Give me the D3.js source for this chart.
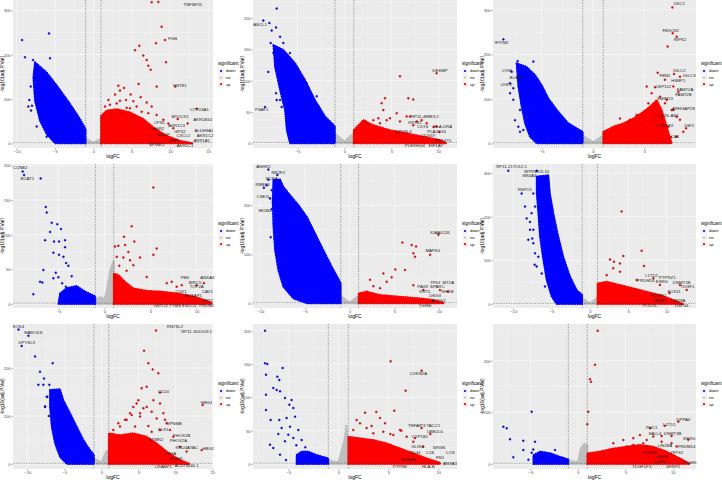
<!DOCTYPE html>
<html>
<head>
<meta charset="utf-8">
<script src="https://cdn.jsdelivr.net/npm/d3@7"></script>
<style>
  body { margin: 0; background: #fff; }
  svg { display: block; font-family: "Liberation Sans", Arial, sans-serif; }
</style>
</head>
<body>
<div id="chart"></div>
<script>
// axis ticks and ranges, one entry per panel (left to right, top to bottom)
var xTicks = [[-10,-5,0,5,10,15],[-5,0,5,10],[-5,0,5],[-5,0,5,10],[-10,-5,0,5,10],[-10,-5,0,5,10],[-10,-5,0,5,10,15],[-5,0,5,10],[-5,0,5,10]];
var yTicks = [[0,100,200,300],[0,50,100,150,200],[0,100,200,300],[0,50,100,150,200],[0,100,200],[0,100,200,300],[0,100,200],[0,50,100,150,200],[0,100,200]];
var xDomains = [[-10.48,15.61],[-9.72,11.99],[-9.74,10.03],[-9.95,11.79],[-10.82,12.01],[-12.63,13.85],[-11.94,15.09],[-8.53,11.87],[-8.93,12.44]];
var yDomains = [[-10.5,323.3],[-7.45,228.7],[-10.5,322.6],[-5.77,201.9],[-9.52,284.4],[-9.16,320.6],[-10.42,291.7],[-7.5,210],[-9.68,271]];

// dense clouds of points, outlined as [logFC, -log10(adj.P.Val)]
var downCloud = [
  [[-7.61,183],[-6.09,160],[-4.57,126],[-3.04,89],[-1.74,55],[-1,32],[-1,0],[-5,0],[-6.09,21],[-6.96,51],[-7.61,96],[-7.83,149]],
  [[-7.55,157],[-6.49,149],[-5.25,128],[-4.18,101],[-3.12,69],[-2.06,43],[-1,27],[-1,0],[-5.78,0],[-6.13,21],[-6.31,53],[-6.84,85],[-7.38,122]],
  [[-7.44,180],[-6.46,172],[-5.65,154],[-5.0,131],[-4.35,101],[-3.38,71],[-2.4,45],[-1,26],[-1,0],[-5.49,0],[-6.14,15],[-6.62,45],[-6.95,82],[-7.27,127]],
  [[-4.84,15],[-4.11,23],[-3.03,26],[-2.12,18],[-1,11],[-1,0],[-5.02,0]],
  [[-8.54,252],[-7.8,253],[-7.43,238],[-6.68,221],[-5.75,201],[-4.81,177],[-3.88,143],[-2.95,109],[-2.01,75],[-1,41],[-1,0],[-4.81,0],[-6.31,10],[-7.43,34],[-7.99,68],[-8.36,109],[-8.54,157],[-8.62,211]],
  [[-6.93,292],[-5.41,295],[-5.2,253],[-4.76,208],[-4.11,154],[-3.46,108],[-2.59,63],[-1.72,32],[-1,21],[-1,0],[-4.33,0],[-4.98,17],[-5.63,55],[-6.07,101],[-6.5,154],[-6.72,208],[-6.93,253]],
  [[-6.94,154],[-5.59,156],[-5.14,133],[-4.23,106],[-3.33,78],[-2.43,50],[-1.53,29],[-1,19],[-1,0],[-4.68,0],[-5.59,15],[-6.26,43],[-6.71,78],[-6.94,119]],
  [[-4.17,0],[-4.17,13.5],[-3.67,18.5],[-3.0,18.5],[-2.17,13.5],[-1,8.5],[-1,0]],
  [[-4.68,0],[-4.68,17],[-3.98,24],[-2.93,21],[-1.88,14],[-1,9],[-1,0]]
];
var upCloud = [
  [[1,0],[1,62],[1.74,74],[3.04,77],[4.78,70],[6.52,55],[7.83,36],[9.57,17],[11.3,6],[13,0]],
  [[1,0],[1,21],[2.02,37],[3.09,29],[4.86,21],[6.63,16],[8.4,10.6],[10.18,5.3],[10.89,0]],
  [[1,0],[1,26],[1.98,37.5],[2.95,45],[3.93,56],[4.9,71],[5.71,86],[6.2,97.5],[6.69,75],[7.18,37.5],[7.66,0]],
  [[1,0],[1,44],[1.5,42],[2.23,32],[3.13,22.6],[4.58,19],[6.03,18],[7.48,16],[8.93,13],[10.38,8],[11.65,2],[11.65,0]],
  [[1,0],[1,20],[1.9,24],[3.4,17],[5.63,13.6],[7.87,10],[9.37,6.8],[10.5,1.4],[10.5,0]],
  [[1,0],[1,47],[2.2,51],[3.93,43.5],[5.67,36],[7.41,28],[9.15,20.6],[10.89,9.2],[12.2,0]],
  [[1,0],[1,64],[2.52,60],[4.32,64],[6.13,57],[7.48,43],[8.83,26],[10.63,8.3],[11.98,0]],
  [[1,0],[1,41],[2.17,38.5],[3.5,36],[4.83,31],[6.17,23.5],[7.5,16],[8.83,8.5],[10.17,2],[10.17,0]],
  [[1,0],[1,20.6],[2.33,24],[3.74,30],[5.14,33.5],[6.54,37],[7.95,33.5],[9.35,24],[10.75,11],[11.8,0]]
];
var noCloud = [
  [[-1,0],[-1,11],[0,2],[1,11],[1,0]],
  [[-1,0],[-1,16],[0,3],[1,16],[1,0]],
  [[-1,0],[-1,18],[0,3],[1,18],[1,0]],
  [[-1,0],[-1,6],[-0.5,10],[0,8],[0.25,20],[0.6,49],[1,63],[1,0]],
  [[-1,0],[-1,15],[0,2],[1,15],[1,0]],
  [[-1,0],[-1,14],[0,2],[1,14],[1,0]],
  [[-1,0],[-1,12],[0,4],[0.6,25],[1,30],[1,0]],
  [[-1,0],[-1,5],[0,3],[0.6,35],[0.8,58],[1,30],[1,0]],
  [[-1,0],[-1,6],[0,4],[0.3,30],[0.7,40],[1,35],[1,0]]
];

// single genes standing out of the clouds
var downPoints = [
  [[-9.3,233],[-5.78,248],[-8.91,194],[-5.65,192],[-8.35,98],[-8.13,74],[-7.04,138],[-7.26,168],[-8.0,85],[-7.87,188],[-8.17,128],[-7.61,113],[-8.48,83],[-7.17,75],[-6.74,98],[-6.52,53],[-7.39,38],[-6.09,15]],
  [[-7.2,215],[-7.98,192],[-7.73,180],[-7.27,185],[-8.09,114],[-7.27,80],[-8.44,58],[-8.62,196],[-7.84,160],[-6.84,170],[-7.2,69],[-6.67,58],[-7.55,144],[-6.49,160],[-5.78,144],[-5.07,117],[-4.01,96],[-2.94,75],[-6.84,69],[-6.13,43]],
  [[-8.73,234],[-7.34,185],[-5.81,184],[-7.92,161],[-7.37,148],[-8.08,135],[-7.76,124],[-7.27,37.5],[-7.11,26],[-7.6,52],[-6.3,82],[-7.76,98],[-7.11,75],[-6.79,30],[-6.14,68],[-8.08,113]],
  [[-8.9,191],[-8.75,186],[-6.94,181],[-6.39,140],[-6.28,132],[-5.74,117],[-5.13,115],[-4.73,108],[-5.92,104],[-6.46,92],[-5.49,90],[-4.95,90],[-4.29,92],[-4.29,82],[-5.56,74],[-4.95,71],[-4.47,68],[-4.18,59],[-3.93,55],[-6.65,49],[-3.57,40],[-7.01,32],[-6.76,31],[-5.56,37],[-7.74,14],[-5.02,38.5],[-4.6,30],[-4.2,25],[-3.6,20],[-5.3,45]],
  [[-9.1,273],[-9.1,252],[-9.29,241],[-8.73,231],[-8.92,214],[-8.73,192],[-8.84,135],[-8.1,262],[-9.6,236],[-8.6,205]],
  [[-8.89,253],[-8.46,223],[-8.24,196],[-7.8,188],[-7.59,208],[-7.37,170],[-7.15,116],[-10.63,305],[-6.93,305],[-7.5,150],[-7.2,90],[-7.8,170],[-8.02,147],[-7.37,139],[-6.72,108],[-6.93,86],[-6.28,70],[-5.85,40],[-6.5,192],[-7.15,223],[-7.37,253]],
  [[-9.86,267],[-10.77,246],[-8.96,224],[-6.58,210],[-8.29,192],[-7.75,178],[-8.51,165],[-7.84,165],[-7.03,165],[-11.2,280],[-7.3,140],[-7.6,120],[-7.1,100],[-7.39,140],[-7.61,119],[-6.04,92],[-5.81,71],[-5.14,36],[-6.49,106]],
  [[-7.33,200],[-7.33,151],[-7.1,150],[-7.23,134],[-5.57,144],[-6.1,131],[-5.9,126],[-6.5,114],[-6.17,111],[-7.23,104],[-5.83,109],[-5.33,99],[-4.67,96],[-4.9,89],[-4.5,84],[-7.23,81],[-6.77,66],[-5.9,66],[-5.17,69],[-4.33,71],[-5.67,54],[-4.83,56],[-4.0,51],[-5.0,44],[-6.83,29],[-6.5,24],[-5.33,34],[-4.5,39],[-3.67,36],[-5.83,14],[-5.23,6],[-4.2,28],[-3.3,25],[-6.0,45]],
  [[-4.86,101],[-7.84,72],[-7.49,69],[-7.14,48],[-5.74,45],[-4.51,43],[-5.74,27],[-6.79,13],[-4.86,22],[-4.69,28],[-2.4,27],[-5.2,8],[-3.8,15]]
];
var upPoints = [
  [[7.61,318],[8.48,319],[8.17,226],[9.35,233],[8.91,263],[5.43,210],[6.0,220],[6.52,198],[6.96,188],[7.17,175],[7.48,166],[9.48,183],[8.26,128],[3.26,130],[2.83,110],[4.0,125],[4.87,110],[5.22,95],[5.91,134],[3.48,96],[4.35,80],[2.17,87],[6.17,104],[6.96,92],[3.48,119],[10.7,128],[13.5,78],[11.0,55],[12.3,45],[1.52,83],[1.96,98],[2.39,71],[3.04,90],[3.7,68],[4.26,98],[4.78,79],[5.65,83],[6.3,71],[7.17,68],[7.61,83],[8.26,64],[9.13,53],[9.78,45],[10.43,34],[5.22,60],[3.04,64]],
  [[5.92,107],[4.33,72],[3.97,64],[6.81,72],[7.34,70],[9.82,112],[3.62,40],[4.15,53],[5.57,48],[8.23,37],[7.34,29],[4.5,37],[6.63,43],[2.2,35],[9.5,26],[10.1,18],[2.38,32],[3.09,37],[3.79,32],[4.86,40],[5.92,35],[6.99,43],[7.7,35],[8.76,32],[9.82,27]],
  [[7.73,306],[7.76,248],[8.15,240],[7.27,218],[6.3,159],[7.89,156],[8.47,150],[7.01,143],[6.04,126],[7.82,128],[8.31,116],[7.18,98],[9.06,34],[7.6,13.5],[7.34,37.5],[6.04,60],[6.53,71],[7.82,75],[8.15,60],[5.39,90],[5.23,128],[5.71,113],[6.53,105],[7.01,90],[7.66,75],[6.69,56],[5.88,45],[5.23,49],[4.58,45],[4.25,64],[8.47,53],[8.8,26],[8.15,15],[3.6,53],[2.63,56]],
  [[5.31,168],[2.95,112],[2.12,97],[3.24,90],[5.67,80],[5.31,71],[1.14,83],[1.5,84],[2.23,85],[2.59,75],[1.32,68],[2.05,67],[2.77,63],[3.86,67],[1.14,39],[3.13,56],[4.58,39],[6.76,30],[7.3,32],[7.84,25],[10.0,27],[10.8,30],[8.39,27],[1.6,55],[2.4,48]],
  [[5.9,124],[6.94,119],[7.43,116],[7.13,102],[7.31,95],[6.19,68],[5.11,69],[4.7,53],[4.14,44],[3.4,31],[2.65,35],[7.13,37],[8.25,27],[9.93,140],[9.0,99],[10.1,27],[11.0,24],[2.28,48],[3.77,61]],
  [[4.15,212],[6.76,122],[7.07,87],[4.37,110],[2.63,102],[3.15,97],[3.93,93],[3.06,82],[2.2,66],[3.93,74],[6.11,55],[8.28,59],[9.15,43.5],[12.63,32],[11.76,43.5],[10.4,25]],
  [[7.39,278],[5.77,236],[6.35,210],[6.94,197],[7.7,189],[6.13,161],[5.45,158],[7.93,149],[4.77,126],[5.68,116],[6.8,109],[8.38,106],[4.1,102],[5.23,99],[7.48,95],[3.42,92],[8.83,85],[13.69,123],[13.56,29],[4.55,78],[6.35,79],[2.52,78],[1.62,71],[2.3,85],[3.2,92],[3.87,106],[4.32,119],[5.0,133],[5.23,106],[6.13,119],[7.03,133],[7.93,126],[8.6,92],[9.28,71],[9.73,57],[10.63,36],[11.53,26],[7.93,71],[6.8,67]],
  [[5.23,154],[6.73,110],[5.6,80],[2.67,77],[4.17,69],[4.67,61],[3.33,57],[2.17,61],[2.83,54],[8.33,54],[8.33,140],[7.67,39],[3.8,78],[6.3,50],[5.2,45],[9.2,45],[1.5,51],[1.83,66],[3.5,46],[4.5,48.5],[5.5,43.5],[6.17,51],[6.83,41],[7.5,33.5],[8.5,26]],
  [[2.09,258],[1.81,192],[1.28,164],[1.39,159],[1.1,101],[1.0,77],[9.17,74],[10.58,82],[7.6,69],[8.82,54],[9.87,54],[11.63,47],[10.4,34],[6.54,56],[6.89,40],[7.25,34],[5.14,34],[5.84,37],[3.74,40],[4.79,46.5],[5.84,50],[7.25,46.5],[7.95,53],[8.82,43],[9.87,40]]
];

// labelled genes: [gene, logFC, -log10(adj.P.Val)] where the label sits
var geneLabels = [
  [["TNFSF25",12.96,313],["FGB",10.35,235],["KRT81",11.3,130],["CYP24A1",13.83,75],["SPOCK1",11.3,59],["AKR1B10",14.26,53],["CPS1",8.61,47],["AKR1C3",10.87,39],["AGR2",8.48,32],["ALDH3A1",14.43,29],["GPX2",11.3,26],["S100P",9.13,19.5],["AKR1C2",14.57,16.5],["CXCL1",11.74,12],["AKR1A1",14.13,4],["SPINK1",8.26,-4.5],["TFF1",10.43,-4.5],["AKR1C1",11.96,-8]],
  [["ASCL1",-8.97,189],["PSAT1",-8.79,53],["DESMP",10.18,116],["RP11-488E3.2",8.58,41.5],["KRT81",7.52,26.6],["HLA-DRA",10.46,22.3],["DPYSL4",6.28,18.6],["CD74",8.33,17],["PLA2G16",9.82,13.3],["DDX3Y",8.94,2.7],["RPS4Y1",10.53,-2.7],["EIF1AY",9.75,-5.3],["PLEKHG4",7.52,-6]],
  [["IFITM2",-8.9,227],["LY6E",-8.34,163],["BLCAP",-7.44,148],["UGP2",-8.41,131],["DKC1",8.41,313],["FBXO32",7.56,253],["RIPK2",8.47,234],["IGLC2",8.41,163],["FBN1",7.01,151],["IGLC3",9.38,151],["HSBP1",8.31,140],["CEP112",6.85,126],["FAM72A",8.96,121],["FAM72B",8.8,110],["SMIM13",7.01,99],["ARHGAP28",8.8,77],["DLX6-AS1",7.34,61],["LONRF2",7.01,39],["IGF2",9.38,39],["CA2",7.99,15]],
  [["CCNB2",-9.18,196],["BCAT1",-8.39,181],["PBK",8.75,34],["ANXA3",11.18,34],["BIRC5",9.84,25],["TOP2A",10.02,19],["CDK1",8.3,11],["NUSAP1",9.66,10.6],["CAV1",11.18,11.5],["KRT7",11.18,2],["GSTO2",6.1,-5],["TYMS",7.66,-5],["ESCO2",9.22,-5],["PRDM1",11.1,-5]],
  [["ANHX2",-9.66,280],["NR2F2",-7.99,267],["PCNA",-8.73,255],["RBBP4",-9.74,241],["CSE1L",-9.66,218],["MCM4",-9.48,189],["KIAA0226",10.11,144],["MAPK4",9.29,107],["TP63",9.55,35],["MT2A",11.04,35],["PAX9",8.17,25],["SPARC",9.81,25],["RHOB",10.93,15],["KRT5",8.43,12],["DSG3",9.55,1.4],["TGFBI",8.43,-8],["ACTG2",9.93,-6.8]],
  [["RP11-217O12.1",-10.2,316],["MTRNR2L10",-6.93,316],["NR4A3",-7.89,299],["RSPO1",-8.46,261],["L1TD1",8.07,64],["PTPRZ1",10.11,61],["PRDM14",7.3,52],["ESRG",9.4,50],["DNMT3B",11.98,43.5],["TDGF1",12.72,30],["SOX11",10.98,18],["POU5F1",8.93,17],["LIN28A",11.54,5],["PODXL",7.85,-6.5],["TERF1",9.15,-6],["USP44",11.98,-6]],
  [["SOX4",-11.22,287],["MARCKS",-9.19,274],["DPYSL3",-10.09,253],["RN7SL2",9.95,287],["RP11-301G19.1",12.88,287],["CD24",8.38,151],["HBG1",14.23,128],["GPNMB",9.82,83],["DLK1",8.38,71],["PHOX2B",10.86,58],["PHOX2A",10.41,49],["STMN2",7.39,51],["RNU4ATAC",11.53,34],["HBG2",14.46,31],["CHGA",9.28,22],["INSM1",10.18,10],["CRABP1",8.38,-5.6],["AC073046.1",11.53,-4.2]],
  [["CDKN2A",8.0,135],["TNFAIP3",7.83,57],["TACC1",9.5,57],["UBE2L6",9.67,48.5],["CYP1B1",8.17,40],["GLIS3",7.9,26],["SRGN",10.07,23.5],["CD44",7.67,17],["C1S",9.17,16],["LOX",11.23,16],["FN1",10.17,8.5],["S100A6",7.0,6],["ANXA1",11.17,0],["PTPRE",6.17,-6.5],["HLA-B",9.0,-6.5]],
  [["DPPA4",11.11,85],["L1TD1",9.63,76],["PHC1",7.77,69],["SALL4",8.12,58],["DNMT3B",9.98,59],["ESRG",11.74,48],["LIN28A",9.17,36],["PRDM14",11.46,33.5],["ZFP42",10.4,22],["FOXH1",7.6,20.6],["GDF3",8.82,14],["TDGF1",11.8,1.3],["TDGF1P3",6.72,-7.5],["CDH1",8.65,-7.5],["SFRP2",10.05,-7.5]]
];
var legendLevels = ["down", "no", "up"];

// page layout of the 3x3 grid
var colLeft = [13, 253, 493], colRight = [213, 457, 696], colBase = [0, 240, 480];
var rowTop = [0, 164, 324], rowBottom = [148, 308, 469], rowBase = [0, 160, 320];
var fills = { down: "#0000FF", no: "#BEBEBE", up: "#FF0000" };
var edges = { down: "#00007A", up: "#8A0000" };
var fcCut = 1, pCut = -Math.log10(0.05);

var svg = d3.select("#chart").append("svg")
    .attr("width", 722)
    .attr("height", 483);

for (var i = 0; i < 9; i++) drawPanel(i);

// nudge overlapping gene labels apart vertically (a poor man's ggrepel)
function repel(nodes, top, bottom) {
    var h = 4.6;
    var items = nodes.map(function(n) {
        return { n: n, x: +n.getAttribute("x"), y: +n.getAttribute("y"), w: n.getComputedTextLength() };
    });
    for (var it = 0; it < 120; it++) {
        var moved = false;
        for (var a = 0; a < items.length; a++) {
            for (var b = a + 1; b < items.length; b++) {
                var A = items[a], B = items[b];
                var dy = Math.abs(A.y - B.y);
                if (Math.abs(A.x - B.x) < (A.w + B.w) / 2 + 0.8 && dy < h) {
                    var push = (h - dy) / 2 + 0.05;
                    if (A.y <= B.y) { A.y -= push; B.y += push; } else { A.y += push; B.y -= push; }
                    moved = true;
                }
            }
        }
        items.forEach(function(d) { d.y = Math.max(top + 3, Math.min(bottom - 2.5, d.y)); });
        if (!moved) break;
    }
    items.forEach(function(d) { d.n.setAttribute("y", d.y); });
}

function drawPanel(i) {
    var r = Math.floor(i / 3), c = i % 3;
    var x = d3.scaleLinear().domain(xDomains[i]).range([colLeft[c], colRight[c]]);
    var y = d3.scaleLinear().domain(yDomains[i]).range([rowBottom[r], rowTop[r]]);
    var g = svg.append("g");

    g.append("clipPath").attr("id", "clip" + i)
        .append("rect")
        .attr("x", colLeft[c]).attr("y", rowTop[r])
        .attr("width", colRight[c] - colLeft[c])
        .attr("height", rowBottom[r] - rowTop[r]);

    g.append("rect")
        .attr("x", colLeft[c]).attr("y", rowTop[r])
        .attr("width", colRight[c] - colLeft[c])
        .attr("height", rowBottom[r] - rowTop[r])
        .attr("fill", "#EBEBEB");

    var plot = g.append("g").attr("clip-path", "url(#clip" + i + ")");

    // grid: minor halfway between the major ticks
    var xs = xTicks[i][1] - xTicks[i][0], ys = yTicks[i][1] - yTicks[i][0];
    var xMinor = d3.range(xTicks[i][0] - xs / 2, xDomains[i][1], xs);
    var yMinor = d3.range(yTicks[i][0] - ys / 2, yDomains[i][1], ys);
    plot.selectAll(".vminor").data(xMinor).enter().append("line")
        .attr("x1", d => x(d)).attr("x2", d => x(d))
        .attr("y1", rowTop[r]).attr("y2", rowBottom[r])
        .attr("stroke", "#fff").attr("stroke-width", 0.25);
    plot.selectAll(".hminor").data(yMinor).enter().append("line")
        .attr("y1", d => y(d)).attr("y2", d => y(d))
        .attr("x1", colLeft[c]).attr("x2", colRight[c])
        .attr("stroke", "#fff").attr("stroke-width", 0.25);
    plot.selectAll(".vmajor").data(xTicks[i]).enter().append("line")
        .attr("x1", d => x(d)).attr("x2", d => x(d))
        .attr("y1", rowTop[r]).attr("y2", rowBottom[r])
        .attr("stroke", "#fff").attr("stroke-width", 0.5);
    plot.selectAll(".hmajor").data(yTicks[i]).enter().append("line")
        .attr("y1", d => y(d)).attr("y2", d => y(d))
        .attr("x1", colLeft[c]).attr("x2", colRight[c])
        .attr("stroke", "#fff").attr("stroke-width", 0.5);

    var outline = d3.line()
        .x(d => x(d[0]))
        .y(d => y(d[1]))
        .curve(d3.curveLinearClosed);

    // each cloud: solid body plus a dotted rim so the edge reads as points
    [[noCloud[i], fills.no], [downCloud[i], fills.down], [upCloud[i], fills.up]].forEach(function(cl) {
        plot.append("path").datum(cl[0]).attr("d", outline)
            .attr("fill", cl[1]).attr("stroke", cl[1])
            .attr("stroke-width", 0.8).attr("stroke-linejoin", "round");
        plot.append("path").datum(cl[0]).attr("d", outline)
            .attr("fill", "none").attr("stroke", cl[1])
            .attr("stroke-width", 2.1).attr("stroke-linecap", "round")
            .attr("stroke-dasharray", "0,2.3");
    });

    plot.selectAll(".dn").data(downPoints[i]).enter().append("circle")
        .attr("cx", d => x(d[0])).attr("cy", d => y(d[1])).attr("r", 1)
        .attr("fill", fills.down).attr("stroke", edges.down).attr("stroke-width", 0.35);
    plot.selectAll(".upp").data(upPoints[i]).enter().append("circle")
        .attr("cx", d => x(d[0])).attr("cy", d => y(d[1])).attr("r", 1)
        .attr("fill", fills.up).attr("stroke", edges.up).attr("stroke-width", 0.35);

    // cut-off lines
    [-fcCut, fcCut].forEach(function(v) {
        plot.append("line")
            .attr("x1", x(v)).attr("x2", x(v))
            .attr("y1", rowTop[r]).attr("y2", rowBottom[r])
            .attr("stroke", "#333").attr("stroke-width", 0.4)
            .attr("stroke-dasharray", "1.4,1.2");
    });
    plot.append("line")
        .attr("x1", colLeft[c]).attr("x2", colRight[c])
        .attr("y1", y(pCut)).attr("y2", y(pCut))
        .attr("stroke", "#333").attr("stroke-width", 0.4)
        .attr("stroke-dasharray", "1.4,1.2");

    // gene labels
    var genes = g.selectAll(".gene").data(geneLabels[i]).enter().append("text")
        .attr("x", d => x(d[1])).attr("y", d => y(d[2]))
        .attr("text-anchor", "middle")
        .attr("dominant-baseline", "middle")
        .attr("font-size", "4.3px")
        .attr("fill", "#1a1a1a")
        .text(d => d[0]);
    repel(genes.nodes(), rowTop[r], rowBottom[r]);

    // axes
    var xa = g.append("g")
        .attr("transform", "translate(0," + rowBottom[r] + ")")
        .call(d3.axisBottom(x).tickValues(xTicks[i]).tickSize(1.5).tickPadding(0.8));
    var ya = g.append("g")
        .attr("transform", "translate(" + colLeft[c] + ",0)")
        .call(d3.axisLeft(y).tickValues(yTicks[i]).tickSize(1.5).tickPadding(0.8));
    [xa, ya].forEach(function(a) {
        a.attr("font-family", null).attr("font-size", "4.2px");
        a.select(".domain").remove();
        a.selectAll("line").attr("stroke", "#333").attr("stroke-width", 0.4);
        a.selectAll("text").attr("fill", "#4D4D4D");
    });

    g.append("text")
        .attr("x", (colLeft[c] + colRight[c]) / 2)
        .attr("y", rowBottom[r] + 10)
        .attr("text-anchor", "middle")
        .attr("font-size", "5px")
        .text("logFC");
    g.append("text")
        .attr("transform", "translate(" + (colBase[c] + 4) + "," + ((rowTop[r] + rowBottom[r]) / 2) + ") rotate(-90)")
        .attr("text-anchor", "middle")
        .attr("font-size", "5px")
        .text("-log10(adj.P.Val)");

    // legend
    var lx = colRight[c] + 5, ly = rowBase[r] + 65;
    g.append("text").attr("x", lx).attr("y", ly)
        .attr("font-size", "4.6px").text("significant");
    legendLevels.forEach(function(k, j) {
        var ky = ly + 6 + j * 6.6;
        g.append("rect").attr("x", lx).attr("y", ky - 3).attr("width", 6).attr("height", 6)
            .attr("fill", "#F2F2F2");
        g.append("circle").attr("cx", lx + 3).attr("cy", ky).attr("r", 1.1)
            .attr("fill", fills[k]);
        g.append("text").attr("x", lx + 8).attr("y", ky + 1.4)
            .attr("font-size", "3.9px").text(k);
    });
}
</script>
</body>
</html>
